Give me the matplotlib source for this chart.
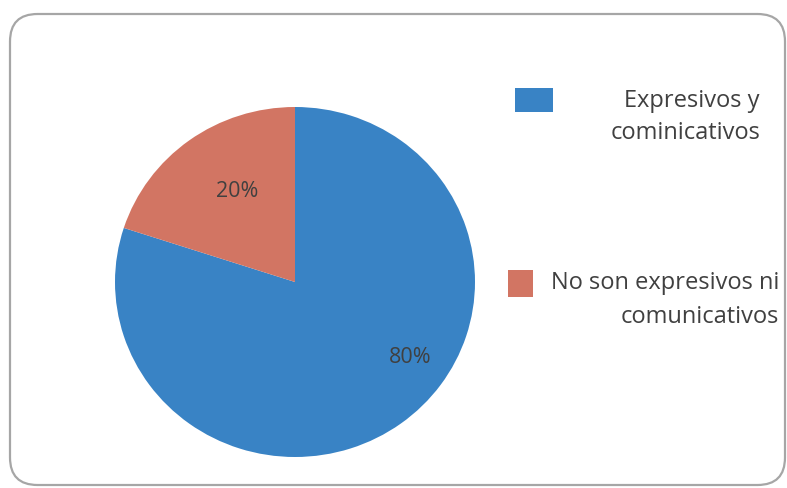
import numpy as np
import matplotlib.pyplot as plt
from matplotlib.patches import FancyBboxPatch, Rectangle

categories = ["Expresivos y\ncominicativos", "No son expresivos ni\ncomunicativos"]
values = [80, 20]
pct_labels = ["80%", "20%"]
colors = ["#3983c5", "#d27563"]

W, H = 787, 488
fig = plt.figure(figsize=(W / 100, H / 100), dpi=100)
fig.patch.set_facecolor("white")

# rounded frame around the chart
frame = FancyBboxPatch(
    (10 / W, 3 / H), 775 / W, 471 / H,
    boxstyle="round,pad=0,rounding_size=0.035",
    transform=fig.transFigure, facecolor="none",
    edgecolor="#a6a6a6", linewidth=1.6, mutation_aspect=W / H,
)
fig.patches.append(frame)

# pie, centre ~ (295, 282) px, slightly wider than tall like the scan
cx, cy, rx, ry = 295, 282, 180, 175
ax = fig.add_axes([(cx - rx) / W, (H - cy - ry) / H, 2 * rx / W, 2 * ry / H])
wedges, _ = ax.pie(values, colors=colors, startangle=90, counterclock=False,
                   radius=1.0, wedgeprops=dict(linewidth=0))
ax.set_xlim(-1, 1)
ax.set_ylim(-1, 1)
ax.set_aspect("auto")
ax.axis("off")

# percentage labels (distance from centre, angle in degrees)
label_pos = [(0.77, -34), (0.61, 122)]
for txt, (d, a) in zip(pct_labels, label_pos):
    ax.text(d * np.cos(np.radians(a)), d * np.sin(np.radians(a)), txt,
            ha="center", va="center", fontsize=15.5, color="#404040",
            family="Open Sans")

# legend drawn by hand to follow the original layout
legend_items = [
    dict(box=(515, 88, 38, 24), text_x=760, text_y=(101, 133)),
    dict(box=(508, 270, 25, 27), text_x=779, text_y=(283, 317)),
]
for item, label, col in zip(legend_items, categories, colors):
    bx, by, bw, bh = item["box"]
    fig.patches.append(Rectangle((bx / W, (H - by - bh) / H), bw / W, bh / H,
                                 transform=fig.transFigure, facecolor=col,
                                 edgecolor="none"))
    for line, ty in zip(label.split("\n"), item["text_y"]):
        fig.text(item["text_x"] / W, (H - ty) / H, line, ha="right", va="center",
                 fontsize=17, color="#404040", family="Open Sans")

fig.savefig("out.png", dpi=100)
